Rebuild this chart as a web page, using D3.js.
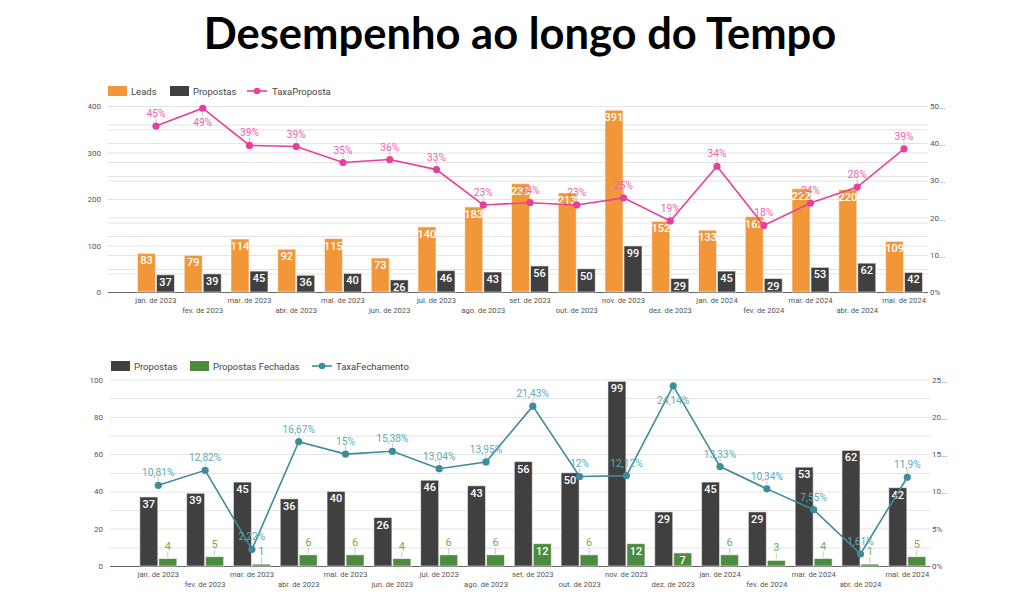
<!DOCTYPE html>
<html><head><meta charset="utf-8">
<script src="https://cdn.jsdelivr.net/npm/d3@7"></script>
<style>body{margin:0;background:#fff}svg{display:block}</style>
</head><body>
<script>
const categories = ["jan. de 2023","fev. de 2023","mar. de 2023","abr. de 2023","mai. de 2023","jun. de 2023","jul. de 2023","ago. de 2023","set. de 2023","out. de 2023","nov. de 2023","dez. de 2023","jan. de 2024","fev. de 2024","mar. de 2024","abr. de 2024","mai. de 2024"];
const leads = [83,79,114,92,115,73,140,183,233,213,391,152,133,162,222,220,109];
const propostas = [37,39,45,36,40,26,46,43,56,50,99,29,45,29,53,62,42];
const taxaProposta = [44.6,49.4,39.4,39.1,34.8,35.6,32.9,23.4,24.0,23.4,25.3,19.1,33.8,17.9,23.9,28.2,38.5];
const fechadas = [4,5,1,6,6,4,6,6,12,6,12,7,6,3,4,1,5];
const taxaFechamento = [10.81,12.82,2.22,16.67,15,15.38,13.04,13.95,21.43,12,12.12,24.14,13.33,10.34,7.55,1.61,11.9];
const topLeftTicks = [0,100,200,300,400];
const topRightTicks = [0,10,20,30,40,50];
const topRightLabels = ["0%","10...","20...","30...","40...","50..."];
const botLeftTicks = [0,20,40,60,80,100];
const botRightTicks = [0,5,10,15,20,25];
const botRightLabels = ["0%","5%","10...","15...","20...","25..."];

const W = 1024, H = 595;
const svg = d3.select("body").append("svg").attr("width", W).attr("height", H);
const FONT = "Roboto, 'Noto Sans', sans-serif";
const C = {orange:"#f1973a", dark:"#404040", green:"#4c8c3f", pink:"#e6409b", pinkL:"#ee62b1", teal:"#3e8c99", tealL:"#5badb8", greenL:"#6db151"};
const loc = d3.formatLocale({decimal:",", thousands:".", grouping:[3], currency:["R$",""]});
const fmt2 = loc.format(".2~f");

svg.append("text").attr("x", 520).attr("y", 49).attr("text-anchor","middle")
  .attr("font-family","Lato, 'Open Sans', sans-serif").attr("font-weight", 700)
  .attr("font-size", 43.5).attr("fill","#000").text("Desempenho ao longo do Tempo");

function chart(o){
  const g = svg.append("g");
  const x = d3.scaleBand().domain(categories).range(o.band);
  const bw = x.bandwidth();
  const cx = c => x(c) + bw/2;
  const yL = d3.scaleLinear().domain([0, o.leftMax]).range([o.y0, o.yTop]);
  const yR = d3.scaleLinear().domain([0, o.rightMax]).range([o.y0, o.yTop]);
  const gl = new Set();
  d3.range(0, o.leftMax + 0.001, o.leftGrid).forEach(v => gl.add(Math.round(yL(v)*2)/2));
  if (o.rightGrid) d3.range(0, o.rightMax + 0.001, o.rightGrid).forEach(v => gl.add(Math.round(yR(v)*2)/2));
  g.selectAll("line.grid").data([...gl]).join("line").attr("class","grid")
    .attr("x1", o.plot[0]).attr("x2", o.plot[1]).attr("y1", d=>d+0.5).attr("y2", d=>d+0.5)
    .attr("stroke","#e3e3e3").attr("stroke-width",1);
  g.selectAll("text.yl").data(o.leftTicks).join("text")
    .attr("x", o.plot[0]-7).attr("y", d=>yL(d)+3).attr("text-anchor","end")
    .attr("font-family",FONT).attr("font-size",8).attr("fill","#555").text(d=>d);
  g.selectAll("text.yr").data(o.rightTicks).join("text")
    .attr("x", o.plot[1]+2).attr("y", d=>yR(d)+3)
    .attr("font-family",FONT).attr("font-size",8).attr("fill","#555").text((d,i)=>o.rightLabels[i]);
  g.append("line").attr("x1", o.plot[0]).attr("x2", o.plot[1]).attr("y1", o.y0+0.5).attr("y2", o.y0+0.5)
    .attr("stroke","#666").attr("stroke-width",1);
  g.selectAll("text.xl").data(categories).join("text")
    .attr("x", d=>cx(d)).attr("y", (d,i)=> o.y0 + (i%2===0 ? 11 : 21)).attr("text-anchor","middle")
    .attr("font-family",FONT).attr("font-size",7.6).attr("fill","#555").text(d=>d);
  const barW = 19;
  o.bars.forEach((s, si) => {
    const xoff = si === 0 ? -barW : 0;
    const gb = g.append("g");
    s.values.forEach((v, i) => {
      const c = categories[i];
      const x0 = cx(c) + xoff;
      const top = yL(v);
      const h = o.y0 - top;
      gb.append("rect").attr("x", x0+0.5).attr("y", top).attr("width", barW-1).attr("height", h)
        .attr("fill", s.color).attr("stroke","rgba(255,255,255,0.55)").attr("stroke-width",1);
      if (h >= 12) {
        gb.append("text").attr("x", x0+barW/2).attr("y", top+11).attr("text-anchor","middle")
          .attr("font-family",FONT).attr("font-weight",500).attr("font-size",11).attr("fill","#fff").text(v);
      } else {
        gb.append("line").attr("x1", x0+barW/2).attr("x2", x0+barW/2).attr("y1", top-7).attr("y2", top-1)
          .attr("stroke","#c8c8c8").attr("stroke-width",1);
        gb.append("text").attr("x", x0+barW/2).attr("y", top-9).attr("text-anchor","middle")
          .attr("font-family",FONT).attr("font-size",11).attr("fill", s.labelColor).text(v);
      }
    });
  });
  const L = o.line;
  const pts = L.values.map((v,i)=>[cx(categories[i]), yR(v), v]);
  g.append("path").attr("d", d3.line()(pts.map(p=>[p[0],p[1]])))
    .attr("fill","none").attr("stroke", L.color).attr("stroke-width",1.6);
  pts.forEach(p => {
    g.append("circle").attr("cx",p[0]).attr("cy",p[1]).attr("r",3.6).attr("fill",L.color);
  });
  pts.forEach(p => {
    const below = p[1] - 20 < o.yTop;
    if (below) {
      g.append("line").attr("x1",p[0]).attr("x2",p[0]).attr("y1",p[1]+4).attr("y2",p[1]+8).attr("stroke","#c8c8c8");
      g.append("text").attr("x",p[0]).attr("y",p[1]+18).attr("text-anchor","middle")
        .attr("font-family",FONT).attr("font-size",10.2).attr("fill",L.labelColor).text(L.fmt(p[2]));
    } else {
      g.append("line").attr("x1",p[0]).attr("x2",p[0]).attr("y1",p[1]-8).attr("y2",p[1]-4).attr("stroke","#c8c8c8");
      g.append("text").attr("x",p[0]).attr("y",p[1]-9).attr("text-anchor","middle")
        .attr("font-family",FONT).attr("font-size",10.2).attr("fill",L.labelColor).text(L.fmt(p[2]));
    }
  });
  const lg = g.append("g");
  o.legend.forEach(it => {
    if (it.type === "rect") {
      lg.append("rect").attr("x", it.x).attr("y", o.legY-5).attr("width", 19).attr("height", 10).attr("fill", it.color);
    } else {
      lg.append("line").attr("x1", it.x).attr("x2", it.x+20).attr("y1", o.legY).attr("y2", o.legY).attr("stroke", it.color).attr("stroke-width",1.6);
      lg.append("circle").attr("cx", it.x+10).attr("cy", o.legY).attr("r", 3.3).attr("fill", it.color);
    }
    lg.append("text").attr("x", it.tx).attr("y", o.legY+3.5).attr("font-family",FONT).attr("font-size",9.5)
      .attr("fill","#444").text(it.label);
  });
}

chart({
  band:[132.6, 927.4], plot:[108, 928], y0:292, yTop:106,
  leftMax:400, rightMax:50, leftGrid:50, rightGrid:5,
  leftTicks: topLeftTicks, rightTicks: topRightTicks, rightLabels: topRightLabels,
  bars:[{values:leads, color:C.orange, labelColor:C.orange},{values:propostas, color:C.dark, labelColor:C.dark}],
  line:{values:taxaProposta, color:C.pink, labelColor:C.pinkL, fmt: v => d3.format(".0f")(v)+"%"},
  legY:91,
  legend:[{type:"rect",x:108,tx:131,color:C.orange,label:"Leads"},
          {type:"rect",x:170,tx:193,color:C.dark,label:"Propostas"},
          {type:"line",x:247,tx:272,color:C.pink,label:"TaxaProposta"}]
});

chart({
  band:[134.9, 930.7], plot:[110, 930], y0:566, yTop:379.5,
  leftMax:100, rightMax:25, leftGrid:10, rightGrid:0,
  leftTicks: botLeftTicks, rightTicks: botRightTicks, rightLabels: botRightLabels,
  bars:[{values:propostas, color:C.dark, labelColor:C.dark},{values:fechadas, color:C.green, labelColor:C.greenL}],
  line:{values:taxaFechamento, color:C.teal, labelColor:C.tealL, fmt: v => fmt2(v)+"%"},
  legY:366,
  legend:[{type:"rect",x:111,tx:134,color:C.dark,label:"Propostas"},
          {type:"rect",x:190,tx:213,color:C.green,label:"Propostas Fechadas"},
          {type:"line",x:312,tx:336,color:C.teal,label:"TaxaFechamento"}]
});
</script>
</body></html>
